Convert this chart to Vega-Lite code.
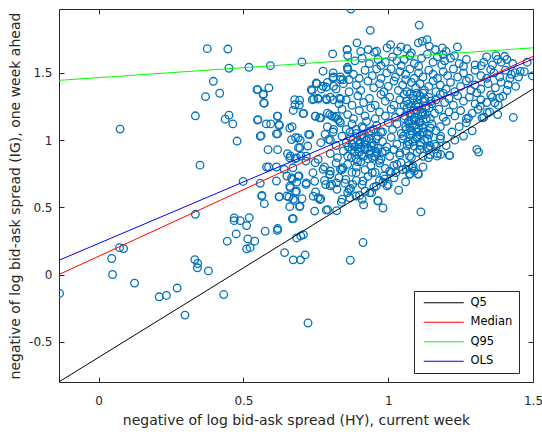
{
  "$schema": "https://vega.github.io/schema/vega-lite/v6.json",
  "width": 474,
  "height": 373,
  "autosize": {"type": "none"},
  "padding": {"left": 59, "top": 9, "right": 9, "bottom": 52},
  "background": "white",
  "config": {
    "view": {"stroke": null},
    "font": "DejaVu Sans",
    "axis": {"domainColor": "#262626", "tickColor": "#262626", "labelColor": "#262626", "titleColor": "#262626", "tickSize": -5, "grid": false, "labelFont": "DejaVu Sans", "titleFont": "DejaVu Sans", "labelFontSize": 12, "titleFontSize": 14, "titleFontWeight": "normal", "labelFlush": false, "domainWidth": 1, "tickWidth": 1}
  },
  "datasets": {
    "pts": [
      {"x":-0.135,"y":-0.141},{"x":0.074,"y":1.082},{"x":0.045,"y":0.119},{"x":0.048,"y":0.0},{"x":0.072,"y":0.2},{"x":0.086,"y":0.193},{"x":0.124,"y":-0.064},{"x":0.209,"y":-0.166},{"x":0.234,"y":-0.156},{"x":0.271,"y":-0.101},
      {"x":0.298,"y":-0.302},{"x":0.332,"y":0.111},{"x":0.342,"y":0.082},{"x":0.341,"y":0.05},{"x":0.379,"y":0.027},{"x":0.432,"y":-0.149},{"x":0.334,"y":0.448},{"x":0.35,"y":0.814},{"x":0.334,"y":1.181},{"x":0.369,"y":1.324},
      {"x":0.375,"y":1.681},{"x":0.396,"y":1.438},{"x":0.418,"y":1.349},{"x":0.446,"y":1.678},{"x":0.45,"y":1.535},{"x":0.437,"y":1.156},{"x":0.45,"y":1.186},{"x":0.463,"y":1.121},{"x":0.478,"y":0.993},{"x":0.499,"y":0.693},
      {"x":0.444,"y":0.248},{"x":0.468,"y":0.421},{"x":0.468,"y":0.401},{"x":0.489,"y":0.401},{"x":0.511,"y":0.364},{"x":0.475,"y":0.302},{"x":0.52,"y":0.423},{"x":0.511,"y":0.191},{"x":0.523,"y":0.2},{"x":0.539,"y":0.248},
      {"x":0.515,"y":0.265},{"x":0.519,"y":1.542},{"x":0.549,"y":1.149},{"x":0.549,"y":1.376},{"x":0.569,"y":1.344},{"x":0.572,"y":1.275},{"x":0.588,"y":1.389},{"x":0.593,"y":1.554},{"x":0.561,"y":1.033},{"x":0.579,"y":1.121},
      {"x":0.594,"y":1.121},{"x":0.624,"y":1.109},{"x":0.618,"y":1.179},{"x":0.618,"y":1.048},{"x":0.585,"y":0.929},{"x":0.618,"y":0.929},{"x":0.58,"y":0.8},{"x":0.587,"y":0.8},{"x":0.614,"y":0.8},{"x":0.558,"y":0.679},
      {"x":0.564,"y":0.589},{"x":0.572,"y":0.527},{"x":0.575,"y":0.322},{"x":0.618,"y":0.342},{"x":0.617,"y":0.329},{"x":0.614,"y":0.696},{"x":0.624,"y":0.579},{"x":0.642,"y":0.163},{"x":0.672,"y":0.109},{"x":0.697,"y":0.109},
      {"x":0.713,"y":0.146},{"x":0.684,"y":0.272},{"x":0.698,"y":0.287},{"x":0.707,"y":0.297},{"x":0.672,"y":0.416},{"x":0.66,"y":0.505},{"x":0.694,"y":0.505},{"x":0.723,"y":-0.361},{"x":0.702,"y":1.582},{"x":0.871,"y":1.976},
      {"x":1.107,"y":1.856},{"x":0.938,"y":1.817},{"x":0.913,"y":0.238},{"x":0.869,"y":0.106},{"x":1.113,"y":0.466},{"x":1.312,"y":0.911},{"x":1.432,"y":1.169},{"x":1.498,"y":1.478},{"x":1.036,"y":0.627},{"x":0.982,"y":0.495},
      {"x":0.964,"y":0.55},{"x":0.915,"y":0.518},{"x":0.91,"y":0.56},{"x":0.822,"y":0.475},{"x":0.791,"y":0.483},{"x":0.808,"y":1.642},{"x":0.858,"y":1.674},{"x":0.892,"y":1.724},{"x":0.678,"y":1.263},{"x":0.693,"y":1.261},
      {"x":0.708,"y":1.199},{"x":0.672,"y":1.221},{"x":0.668,"y":1.1},{"x":0.68,"y":1.018},{"x":0.696,"y":1.0},{"x":0.725,"y":1.043},{"x":0.69,"y":0.944},{"x":0.722,"y":0.956},{"x":0.652,"y":0.899},{"x":0.662,"y":0.882},
      {"x":0.678,"y":0.862},{"x":0.698,"y":0.882},{"x":0.716,"y":0.844},{"x":0.65,"y":0.733},{"x":0.668,"y":0.708},{"x":0.684,"y":0.688},{"x":0.692,"y":0.733},{"x":0.716,"y":0.671},{"x":0.662,"y":0.646},{"x":0.68,"y":0.614},
      {"x":0.672,"y":0.56},{"x":0.65,"y":0.584},{"x":0.702,"y":0.564},{"x":0.74,"y":0.758},{"x":0.749,"y":0.614},{"x":0.758,"y":0.572},{"x":0.767,"y":0.564},{"x":0.748,"y":0.832},{"x":0.737,"y":1.369},{"x":0.754,"y":1.421},
      {"x":0.769,"y":1.381},{"x":0.775,"y":1.401},{"x":0.743,"y":1.305},{"x":0.758,"y":1.305},{"x":0.748,"y":1.179},{"x":0.767,"y":1.166},{"x":0.788,"y":1.3},{"x":0.811,"y":1.3},{"x":0.811,"y":1.401},{"x":0.775,"y":1.513},
      {"x":0.811,"y":1.47},{"x":0.835,"y":1.451},{"x":0.859,"y":1.542},{"x":0.865,"y":1.451},{"x":0.835,"y":1.305},{"x":0.805,"y":1.179},{"x":0.826,"y":1.154},{"x":0.811,"y":1.08},{"x":0.782,"y":1.043},{"x":0.767,"y":0.981},
      {"x":0.794,"y":1.005},{"x":0.758,"y":0.857},{"x":0.775,"y":0.783},{"x":0.799,"y":0.745},{"x":0.805,"y":0.671},{"x":0.835,"y":0.783},{"x":0.823,"y":0.634},{"x":0.853,"y":0.708},{"x":0.865,"y":0.634},{"x":0.841,"y":0.56},
      {"x":0.889,"y":0.584},{"x":0.889,"y":0.758},{"x":0.913,"y":0.696},{"x":0.877,"y":0.671},{"x":0.943,"y":0.609},{"x":0.984,"y":0.733},{"x":0.996,"y":0.659},{"x":1.026,"y":0.758},{"x":1.062,"y":0.783},{"x":1.074,"y":0.745},
      {"x":1.086,"y":0.807},{"x":1.104,"y":0.745},{"x":1.044,"y":0.832},{"x":1.139,"y":0.869},{"x":1.169,"y":0.881},{"x":1.181,"y":0.894},{"x":1.211,"y":0.886},{"x":1.145,"y":0.956},{"x":1.181,"y":1.03},{"x":1.306,"y":0.931},
      {"x":0.931,"y":1.674},{"x":0.96,"y":1.662},{"x":0.996,"y":1.686},{"x":1.044,"y":1.694},{"x":1.08,"y":1.649},{"x":1.104,"y":1.724},{"x":1.118,"y":1.736},{"x":1.134,"y":1.748},{"x":1.163,"y":1.674},{"x":1.187,"y":1.686},
      {"x":1.239,"y":1.694},{"x":1.19,"y":1.637},{"x":1.229,"y":1.629},{"x":1.008,"y":1.711},{"x":1.032,"y":1.662},{"x":1.34,"y":1.619},{"x":1.378,"y":1.6},{"x":1.372,"y":1.629},{"x":1.402,"y":1.624},{"x":1.321,"y":1.554},
      {"x":1.354,"y":1.525},{"x":1.456,"y":1.512},{"x":1.48,"y":1.58},{"x":1.438,"y":1.502},{"x":1.414,"y":1.413},{"x":1.396,"y":1.327},{"x":1.384,"y":1.315},{"x":1.368,"y":1.278},{"x":1.42,"y":1.46},{"x":1.354,"y":1.337},
      {"x":1.342,"y":1.204},{"x":1.324,"y":1.166},{"x":1.378,"y":1.191},{"x":1.277,"y":1.166},{"x":1.318,"y":1.253},{"x":1.306,"y":1.352},
      {"x":0.558,"y":1.029},{"x":0.614,"y":1.046},{"x":0.66,"y":1.09},{"x":0.666,"y":1.004},{"x":0.689,"y":1.017},{"x":0.729,"y":1.041},{"x":0.695,"y":0.942},{"x":0.66,"y":0.868},{"x":0.683,"y":0.868},{"x":0.717,"y":0.88},
      {"x":0.641,"y":0.782},{"x":0.671,"y":0.794},{"x":0.666,"y":0.719},{"x":0.689,"y":0.731},{"x":0.66,"y":0.657},{"x":0.683,"y":0.62},{"x":0.657,"y":0.576},{"x":0.678,"y":0.551},{"x":0.695,"y":0.509},{"x":0.717,"y":0.682},
      {"x":0.746,"y":0.694},{"x":0.741,"y":0.583},{"x":0.764,"y":0.558},{"x":0.746,"y":0.472},{"x":0.784,"y":0.67},{"x":0.798,"y":0.744},{"x":0.844,"y":0.794},{"x":0.821,"y":0.682},{"x":0.547,"y":1.376},{"x":0.568,"y":1.339},
      {"x":0.57,"y":1.277},{"x":0.677,"y":1.301},{"x":0.694,"y":1.297},{"x":0.706,"y":1.197},{"x":0.738,"y":1.301},{"x":0.757,"y":1.313},{"x":0.786,"y":1.308},{"x":0.832,"y":1.313},{"x":0.734,"y":1.376},{"x":0.786,"y":1.395},
      {"x":0.751,"y":1.425},{"x":0.858,"y":1.673},{"x":0.861,"y":1.524},{"x":0.844,"y":1.45},{"x":0.809,"y":1.462},{"x":0.55,"y":1.153},{"x":0.623,"y":1.116},{"x":0.617,"y":1.178},{"x":0.749,"y":1.178},{"x":0.763,"y":1.166},
      {"x":0.798,"y":1.19},{"x":0.821,"y":1.178},{"x":0.832,"y":1.141},{"x":1.212,"y":0.886},{"x":1.103,"y":0.749},{"x":1.075,"y":0.749},{"x":1.083,"y":0.794},{"x":1.019,"y":0.811},{"x":1.005,"y":0.769},{"x":0.988,"y":0.712},
      {"x":0.982,"y":0.687},{"x":0.959,"y":0.658},{"x":0.965,"y":0.546},{"x":0.936,"y":0.608},{"x":0.945,"y":0.757},{"x":1.04,"y":0.905},{"x":1.074,"y":0.88},{"x":1.143,"y":0.893},{"x":1.166,"y":0.955},{"x":1.137,"y":0.943},
      {"x":1.109,"y":0.93},{"x":0.563,"y":0.583},{"x":0.623,"y":0.578},{"x":0.669,"y":0.415},{"x":0.786,"y":0.479},{"x":0.838,"y":0.538},{"x":0.867,"y":0.571},{"x":0.901,"y":0.588},
      {"x":0.905,"y":1.66},{"x":0.952,"y":1.655},{"x":1.065,"y":1.68},{"x":1.2,"y":1.66},{"x":1.142,"y":1.7},
      {"x":0.86,"y":1.63},{"x":0.885,"y":1.59},{"x":0.91,"y":1.61},{"x":0.935,"y":1.57},{"x":0.965,"y":1.6},{"x":0.99,"y":1.58},{"x":1.015,"y":1.62},{"x":1.03,"y":1.59},{"x":1.055,"y":1.6},{"x":1.075,"y":1.63},
      {"x":1.09,"y":1.57},{"x":1.115,"y":1.61},{"x":1.135,"y":1.64},{"x":1.155,"y":1.58},{"x":1.17,"y":1.62},{"x":1.195,"y":1.59},{"x":1.215,"y":1.61},{"x":1.245,"y":1.57},{"x":1.27,"y":1.6},{"x":1.3,"y":1.56},
      {"x":1.33,"y":1.58},{"x":1.36,"y":1.56},{"x":1.39,"y":1.58},{"x":1.41,"y":1.6},{"x":1.43,"y":1.57},{"x":0.975,"y":1.555},{"x":1.045,"y":1.555},{"x":1.105,"y":1.55},{"x":1.185,"y":1.56},{"x":1.26,"y":1.55},
      {"x":0.81,"y":1.5},{"x":0.835,"y":1.47},{"x":0.86,"y":1.53},{"x":0.88,"y":1.49},{"x":0.9,"y":1.46},{"x":0.92,"y":1.52},{"x":0.945,"y":1.48},{"x":0.96,"y":1.53},{"x":0.975,"y":1.46},{"x":0.995,"y":1.5},
      {"x":1.01,"y":1.53},{"x":1.025,"y":1.47},{"x":1.04,"y":1.51},{"x":1.06,"y":1.49},{"x":1.075,"y":1.53},{"x":1.09,"y":1.46},{"x":1.105,"y":1.5},{"x":1.12,"y":1.47},{"x":1.14,"y":1.52},{"x":1.155,"y":1.49},
      {"x":1.17,"y":1.46},{"x":1.19,"y":1.51},{"x":1.205,"y":1.48},{"x":1.225,"y":1.53},{"x":1.24,"y":1.47},{"x":1.26,"y":1.5},{"x":1.28,"y":1.46},{"x":1.3,"y":1.52},{"x":1.32,"y":1.48},{"x":1.34,"y":1.46},
      {"x":1.365,"y":1.5},{"x":1.385,"y":1.47},{"x":1.405,"y":1.52},{"x":1.425,"y":1.49},{"x":1.45,"y":1.47},{"x":1.47,"y":1.51},
      {"x":0.79,"y":1.43},{"x":0.82,"y":1.38},{"x":0.845,"y":1.42},{"x":0.865,"y":1.36},{"x":0.89,"y":1.41},{"x":0.905,"y":1.37},{"x":0.93,"y":1.44},{"x":0.95,"y":1.39},{"x":0.97,"y":1.42},{"x":0.985,"y":1.36},
      {"x":1.0,"y":1.4},{"x":1.02,"y":1.44},{"x":1.035,"y":1.37},{"x":1.05,"y":1.41},{"x":1.065,"y":1.36},{"x":1.08,"y":1.43},{"x":1.095,"y":1.39},{"x":1.11,"y":1.42},{"x":1.125,"y":1.37},{"x":1.14,"y":1.4},
      {"x":1.155,"y":1.44},{"x":1.165,"y":1.36},{"x":1.18,"y":1.41},{"x":1.2,"y":1.38},{"x":1.215,"y":1.43},{"x":1.23,"y":1.36},{"x":1.25,"y":1.4},{"x":1.27,"y":1.44},{"x":1.285,"y":1.37},{"x":1.3,"y":1.41},
      {"x":1.32,"y":1.38},{"x":1.345,"y":1.42},{"x":1.37,"y":1.39},{"x":1.39,"y":1.43},{"x":1.41,"y":1.37},{"x":1.44,"y":1.4},{"x":1.06,"y":1.45},{"x":1.12,"y":1.35},{"x":1.19,"y":1.35},
      {"x":0.8,"y":1.32},{"x":0.83,"y":1.27},{"x":0.855,"y":1.3},{"x":0.875,"y":1.26},{"x":0.895,"y":1.33},{"x":0.915,"y":1.28},{"x":0.935,"y":1.31},{"x":0.955,"y":1.26},{"x":0.975,"y":1.34},{"x":0.99,"y":1.29},
      {"x":1.005,"y":1.32},{"x":1.02,"y":1.26},{"x":1.04,"y":1.3},{"x":1.055,"y":1.34},{"x":1.07,"y":1.27},{"x":1.085,"y":1.31},{"x":1.095,"y":1.26},{"x":1.11,"y":1.33},{"x":1.125,"y":1.29},{"x":1.14,"y":1.32},
      {"x":1.15,"y":1.27},{"x":1.165,"y":1.3},{"x":1.18,"y":1.34},{"x":1.195,"y":1.28},{"x":1.21,"y":1.31},{"x":1.225,"y":1.26},{"x":1.24,"y":1.33},{"x":1.26,"y":1.29},{"x":1.28,"y":1.32},{"x":1.3,"y":1.27},
      {"x":1.32,"y":1.3},{"x":1.34,"y":1.28},{"x":1.36,"y":1.32},{"x":1.38,"y":1.26},{"x":1.075,"y":1.345},{"x":1.13,"y":1.255},{"x":1.1,"y":1.3},
      {"x":0.79,"y":1.2},{"x":0.815,"y":1.17},{"x":0.84,"y":1.23},{"x":0.86,"y":1.19},{"x":0.88,"y":1.16},{"x":0.9,"y":1.22},{"x":0.92,"y":1.18},{"x":0.94,"y":1.24},{"x":0.955,"y":1.16},{"x":0.97,"y":1.21},
      {"x":0.99,"y":1.18},{"x":1.01,"y":1.23},{"x":1.025,"y":1.17},{"x":1.04,"y":1.21},{"x":1.055,"y":1.16},{"x":1.065,"y":1.24},{"x":1.08,"y":1.19},{"x":1.09,"y":1.15},{"x":1.1,"y":1.22},{"x":1.115,"y":1.18},
      {"x":1.13,"y":1.24},{"x":1.145,"y":1.16},{"x":1.16,"y":1.2},{"x":1.175,"y":1.23},{"x":1.19,"y":1.17},{"x":1.21,"y":1.21},{"x":1.23,"y":1.18},{"x":1.25,"y":1.22},{"x":1.27,"y":1.16},{"x":1.29,"y":1.2},
      {"x":1.31,"y":1.23},{"x":1.33,"y":1.17},{"x":1.35,"y":1.21},{"x":1.075,"y":1.2},{"x":1.105,"y":1.25},{"x":1.12,"y":1.2},
      {"x":0.79,"y":1.1},{"x":0.81,"y":1.06},{"x":0.835,"y":1.13},{"x":0.855,"y":1.08},{"x":0.875,"y":1.12},{"x":0.89,"y":1.05},{"x":0.91,"y":1.1},{"x":0.925,"y":1.14},{"x":0.94,"y":1.07},{"x":0.96,"y":1.11},
      {"x":0.98,"y":1.06},{"x":1.0,"y":1.13},{"x":1.015,"y":1.08},{"x":1.03,"y":1.12},{"x":1.045,"y":1.05},{"x":1.06,"y":1.1},{"x":1.07,"y":1.14},{"x":1.08,"y":1.07},{"x":1.09,"y":1.11},{"x":1.1,"y":1.06},
      {"x":1.11,"y":1.13},{"x":1.12,"y":1.09},{"x":1.135,"y":1.05},{"x":1.15,"y":1.12},{"x":1.165,"y":1.07},{"x":1.18,"y":1.1},{"x":1.2,"y":1.14},{"x":1.22,"y":1.06},{"x":1.245,"y":1.1},{"x":1.27,"y":1.13},
      {"x":1.29,"y":1.07},{"x":1.075,"y":1.09},{"x":1.095,"y":1.145},{"x":1.105,"y":1.085},
      {"x":0.8,"y":1.0},{"x":0.82,"y":0.96},{"x":0.84,"y":1.03},{"x":0.855,"y":0.98},{"x":0.87,"y":1.02},{"x":0.885,"y":0.95},{"x":0.895,"y":1.0},{"x":0.91,"y":1.04},{"x":0.92,"y":0.97},{"x":0.935,"y":1.01},
      {"x":0.95,"y":0.96},{"x":0.965,"y":1.03},{"x":0.98,"y":0.99},{"x":0.995,"y":0.95},{"x":1.01,"y":1.02},{"x":1.03,"y":0.97},{"x":1.05,"y":1.01},{"x":1.065,"y":0.96},{"x":1.075,"y":1.04},{"x":1.085,"y":0.99},
      {"x":1.1,"y":1.02},{"x":1.11,"y":0.96},{"x":1.125,"y":1.0},{"x":1.14,"y":1.04},{"x":1.16,"y":0.97},{"x":1.18,"y":1.01},{"x":1.2,"y":0.96},{"x":1.23,"y":1.0},{"x":1.26,"y":1.03},{"x":1.09,"y":0.955},
      {"x":0.905,"y":0.985},{"x":0.875,"y":0.97},
      {"x":0.8,"y":0.9},{"x":0.825,"y":0.87},{"x":0.845,"y":0.92},{"x":0.86,"y":0.88},{"x":0.875,"y":0.93},{"x":0.89,"y":0.86},{"x":0.9,"y":0.91},{"x":0.915,"y":0.88},{"x":0.93,"y":0.94},{"x":0.945,"y":0.87},
      {"x":0.96,"y":0.9},{"x":0.975,"y":0.86},{"x":0.99,"y":0.92},{"x":1.005,"y":0.88},{"x":1.02,"y":0.93},{"x":1.04,"y":0.89},{"x":1.06,"y":0.92},{"x":1.08,"y":0.87},{"x":1.1,"y":0.91},{"x":1.12,"y":0.88},
      {"x":1.14,"y":0.93},{"x":1.17,"y":0.9},{"x":0.905,"y":0.945},{"x":0.935,"y":0.895},
      {"x":0.78,"y":0.8},{"x":0.8,"y":0.77},{"x":0.82,"y":0.83},{"x":0.84,"y":0.78},{"x":0.86,"y":0.82},{"x":0.875,"y":0.76},{"x":0.89,"y":0.8},{"x":0.905,"y":0.84},{"x":0.92,"y":0.78},{"x":0.94,"y":0.81},
      {"x":0.955,"y":0.76},{"x":0.97,"y":0.83},{"x":0.99,"y":0.79},{"x":1.01,"y":0.76},{"x":1.03,"y":0.82},{"x":1.05,"y":0.78},{"x":1.07,"y":0.81},{"x":1.09,"y":0.77},{"x":1.12,"y":0.8},
      {"x":0.78,"y":0.7},{"x":0.8,"y":0.66},{"x":0.83,"y":0.72},{"x":0.85,"y":0.68},{"x":0.87,"y":0.64},{"x":0.89,"y":0.7},{"x":0.91,"y":0.67},{"x":0.93,"y":0.73},{"x":0.95,"y":0.65},{"x":0.97,"y":0.7},
      {"x":1.0,"y":0.67},{"x":1.02,"y":0.72},{"x":1.06,"y":0.69},{"x":0.86,"y":0.61},{"x":0.92,"y":0.62},
      {"x":1.052,"y":1.03},{"x":1.058,"y":1.18},{"x":1.063,"y":1.29},{"x":1.068,"y":0.99},{"x":1.072,"y":1.12},{"x":1.078,"y":1.25},{"x":1.083,"y":1.05},{"x":1.087,"y":1.33},{"x":1.092,"y":1.17},{"x":1.097,"y":1.02},
      {"x":1.102,"y":1.27},{"x":1.107,"y":1.14},{"x":1.112,"y":0.98},{"x":1.116,"y":1.21},{"x":1.121,"y":1.06},{"x":1.126,"y":1.31},{"x":1.131,"y":1.16},{"x":1.136,"y":1.01},{"x":1.141,"y":1.24},{"x":1.146,"y":1.09},
      {"x":1.062,"y":1.08},{"x":1.088,"y":1.22},{"x":1.118,"y":1.11},{"x":1.073,"y":0.97},{"x":1.099,"y":1.35},{"x":1.128,"y":1.19},{"x":1.055,"y":1.26},{"x":1.148,"y":1.29},{"x":1.081,"y":1.15},{"x":1.109,"y":1.04},
      {"x":0.862,"y":0.95},{"x":0.868,"y":1.06},{"x":0.873,"y":0.87},{"x":0.879,"y":1.0},{"x":0.884,"y":0.91},{"x":0.889,"y":1.08},{"x":0.894,"y":0.84},{"x":0.899,"y":0.97},{"x":0.904,"y":1.03},{"x":0.909,"y":0.89},
      {"x":0.914,"y":1.09},{"x":0.919,"y":0.93},{"x":0.924,"y":1.0},{"x":0.929,"y":0.86},{"x":0.934,"y":1.05},{"x":0.939,"y":0.92},{"x":0.944,"y":0.98},{"x":0.949,"y":1.08},{"x":0.954,"y":0.88},{"x":0.959,"y":1.01},
      {"x":0.964,"y":0.94},{"x":0.969,"y":0.85},{"x":0.974,"y":1.06},{"x":0.979,"y":0.91},{"x":0.896,"y":0.935},{"x":0.917,"y":1.02},{"x":0.941,"y":0.955},{"x":0.958,"y":0.915}
    ],
    "lines": [
      {"s":"Q5","x":-0.137,"y":-0.799},{"s":"Q5","x":1.5,"y":1.381},
      {"s":"Median","x":-0.137,"y":0.0},{"s":"Median","x":1.5,"y":1.623},
      {"s":"Q95","x":-0.137,"y":1.445},{"s":"Q95","x":1.5,"y":1.687},
      {"s":"OLS","x":-0.137,"y":0.106},{"s":"OLS","x":1.5,"y":1.604}
    ]
  },
  "layer": [
    {
      "data": {"name": "pts"},
      "mark": {"type": "point", "shape": "circle", "filled": false, "size": 58, "strokeWidth": 1.3, "color": "#0072BD", "opacity": 1, "clip": true},
      "encoding": {
        "x": {"field": "x", "type": "quantitative", "scale": {"domain": [-0.137, 1.5], "nice": false, "zero": false},
          "axis": {"orient": "bottom", "values": [0, 0.5, 1, 1.5], "labelExpr": "datum.value < 0 ? '-' + format(-datum.value, '~g') : format(datum.value, '~g')", "labelPadding": 18, "title": "negative of log bid-ask spread (HY), current week", "titlePadding": 7}},
        "y": {"field": "y", "type": "quantitative", "scale": {"domain": [-0.8, 1.976], "nice": false, "zero": false},
          "axis": {"orient": "left", "values": [-0.5, 0, 0.5, 1, 1.5], "labelExpr": "datum.value < 0 ? '-' + format(-datum.value, '~g') : format(datum.value, '~g')", "labelPadding": 12, "title": "negative of log bid-ask spread (IG), one week ahead", "titlePadding": 6}}
      }
    },
    {
      "data": {"name": "lines"},
      "mark": {"type": "line", "strokeWidth": 1, "clip": true},
      "encoding": {
        "x": {"field": "x", "type": "quantitative", "axis": {"orient": "top", "values": [0, 0.5, 1, 1.5], "labels": false, "title": null}},
        "y": {"field": "y", "type": "quantitative", "axis": {"orient": "right", "values": [-0.5, 0, 0.5, 1, 1.5], "labels": false, "title": null}},
        "color": {"field": "s", "type": "nominal", "sort": ["Q5", "Median", "Q95", "OLS"],
          "scale": {"domain": ["Q5", "Median", "Q95", "OLS"], "range": ["#000000", "#ff0000", "#00ff00", "#0000ff"]},
          "legend": {"orient": "none", "legendX": 355, "legendY": 282, "title": null, "strokeColor": "#262626", "fillColor": "white", "padding": 6, "symbolType": "M-4,0H4", "symbolSize": 100, "symbolStrokeWidth": 1, "symbolOffset": 18, "labelOffset": 21, "labelFontSize": 11.5, "labelFont": "DejaVu Sans", "labelColor": "#000000", "rowPadding": 6.5}}
      }
    }
  ],
  "resolve": {"axis": {"x": "independent", "y": "independent"}}
}
